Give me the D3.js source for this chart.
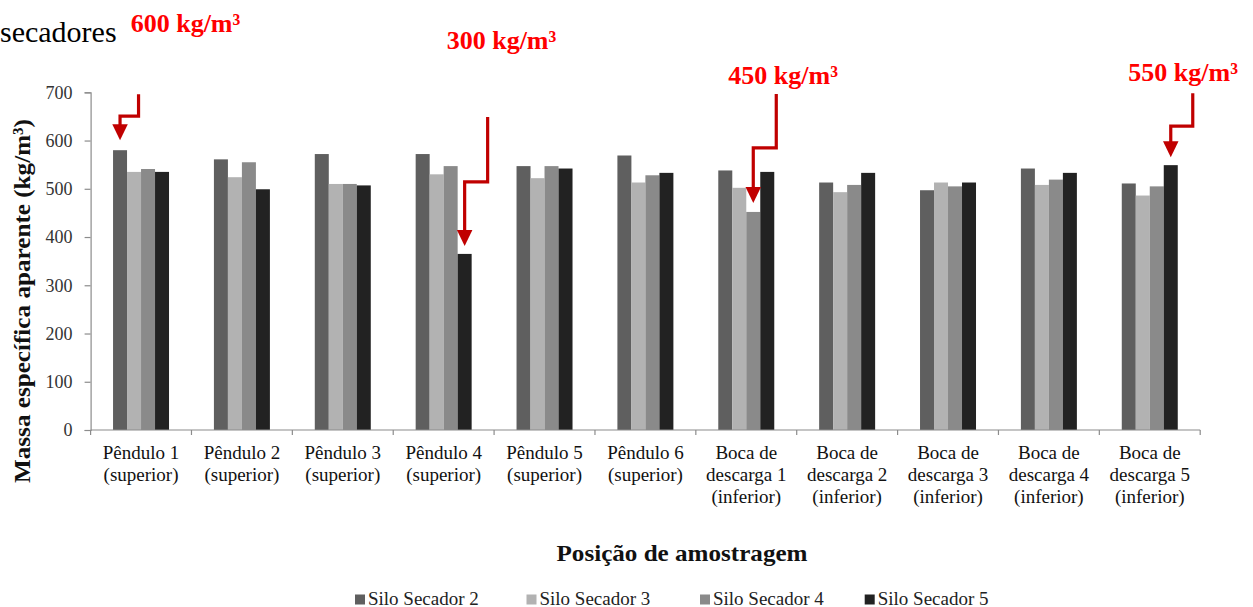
<!DOCTYPE html>
<html>
<head>
<meta charset="utf-8">
<script src="https://cdn.jsdelivr.net/npm/d3@7"></script>
<style>
  html, body { margin: 0; padding: 0; background: #fff; }
  svg { display: block; }
  svg text { font-family: "Liberation Serif", "DejaVu Serif", serif !important; }
</style>
</head>
<body>
<svg id="chart" width="1253" height="607"></svg>
<script>
// ---------- DATA ----------
const categories = [
  ["Pêndulo 1", "(superior)"],
  ["Pêndulo 2", "(superior)"],
  ["Pêndulo 3", "(superior)"],
  ["Pêndulo 4", "(superior)"],
  ["Pêndulo 5", "(superior)"],
  ["Pêndulo 6", "(superior)"],
  ["Boca de", "descarga 1", "(inferior)"],
  ["Boca de", "descarga 2", "(inferior)"],
  ["Boca de", "descarga 3", "(inferior)"],
  ["Boca de", "descarga 4", "(inferior)"],
  ["Boca de", "descarga 5", "(inferior)"]
];
const seriesNames = ["Silo Secador 2", "Silo Secador 3", "Silo Secador 4", "Silo Secador 5"];
const siloSecador2 = [580, 561, 572, 572, 547, 569, 538, 513, 497, 542, 511];
const siloSecador3 = [535, 524, 510, 530, 522, 513, 502, 493, 513, 508, 486];
const siloSecador4 = [541, 555, 510, 547, 547, 528, 452, 508, 505, 519, 505];
const siloSecador5 = [535, 499, 507, 365, 542, 533, 535, 533, 513, 533, 549];
const seriesValues = [siloSecador2, siloSecador3, siloSecador4, siloSecador5];
const seriesColors = ["#5f5f5f", "#b2b2b2", "#8a8a8a", "#222222"];
const yTicks = [0, 100, 200, 300, 400, 500, 600, 700];
const yLabel = "Massa específica aparente (kg/m³)";
const xLabel = "Posição de amostragem";
const topText = "secadores";
// annotations: label, category index, series index
const annotations = [
  { label: "600 kg/m³", cat: 0, ser: 0 },
  { label: "300 kg/m³", cat: 3, ser: 3 },
  { label: "450 kg/m³", cat: 6, ser: 2 },
  { label: "550 kg/m³", cat: 10, ser: 3 }
];

// ---------- LAYOUT ----------
const FONT = "'Liberation Serif', 'DejaVu Serif', serif";
const svg = d3.select("#chart");
const plotLeft = 90.6, plotRight = 1200.2, plotTop = 92.3, plotBottom = 430;

const x0 = d3.scaleBand()
  .domain(d3.range(categories.length))
  .range([plotLeft, plotRight])
  .paddingInner(0.445)
  .paddingOuter(0.2225);
const x1 = d3.scaleBand()
  .domain(d3.range(seriesNames.length))
  .range([0, x0.bandwidth()]);
const y = d3.scaleLinear().domain([0, 700]).range([plotBottom, plotTop]);

const axisColor = "#8c8c8c";

// top-left cropped text
svg.append("text").attr("x", 0).attr("y", 42).attr("font-family", FONT)
  .attr("font-size", 30).attr("fill", "#000").text(topText);

// bars
const groups = svg.append("g").selectAll("g")
  .data(categories.map((c, i) => i))
  .join("g")
  .attr("transform", i => `translate(${x0(i)},0)`);
groups.selectAll("rect")
  .data(i => seriesValues.map((vals, s) => ({ s, v: vals[i] })))
  .join("rect")
  .attr("x", d => x1(d.s))
  .attr("width", x1.bandwidth())
  .attr("y", d => y(d.v))
  .attr("height", d => y(0) - y(d.v))
  .attr("fill", d => seriesColors[d.s]);

// y axis
const yAxis = d3.axisLeft(y).tickValues(yTicks).tickSize(6).tickPadding(12).tickFormat(d3.format("d"));
const gy = svg.append("g").attr("transform", `translate(${plotLeft},0)`).call(yAxis)
  .attr("font-family", FONT);
gy.select(".domain").attr("stroke", axisColor).attr("stroke-width", 1.2);
gy.selectAll(".tick line").attr("stroke", axisColor).attr("stroke-width", 1.2);
gy.selectAll(".tick text")
  .attr("font-family", FONT)
  .attr("font-size", 18).attr("fill", "#333");

// x axis line + boundary ticks
const step = x0.step();
const gx = svg.append("g").attr("font-family", FONT);
gx.append("line").attr("x1", plotLeft).attr("x2", plotRight).attr("y1", plotBottom).attr("y2", plotBottom)
  .attr("stroke", axisColor).attr("stroke-width", 1.2);
gx.selectAll("line.tk").data(d3.range(categories.length + 1)).join("line")
  .attr("class", "tk")
  .attr("x1", i => plotLeft + i * step).attr("x2", i => plotLeft + i * step)
  .attr("y1", plotBottom).attr("y2", plotBottom + 5)
  .attr("stroke", axisColor).attr("stroke-width", 1.2);

// x category labels
gx.selectAll("text.cat").data(categories).join("text")
  .attr("class", "cat")
  .attr("text-anchor", "middle")
  .attr("font-family", FONT)
  .attr("font-size", 19)
  .attr("fill", "#111")
  .attr("x", (d, i) => x0(i) + x0.bandwidth() / 2)
  .attr("y", 459)
  .each(function (d, i) {
    const t = d3.select(this);
    d.forEach((line, k) => {
      t.append("tspan").attr("x", x0(i) + x0.bandwidth() / 2)
        .attr("dy", k === 0 ? 0 : 22).text(line);
    });
  });

// y label
svg.append("text")
  .attr("transform", "translate(30,301) rotate(-90)")
  .attr("text-anchor", "middle")
  .attr("font-family", FONT)
  .attr("font-size", 24).attr("font-weight", "bold").attr("fill", "#111")
  .attr("textLength", 364).attr("lengthAdjust", "spacingAndGlyphs")
  .text(yLabel);

// x title
svg.append("text")
  .attr("x", 682).attr("y", 561)
  .attr("text-anchor", "middle")
  .attr("font-family", FONT)
  .attr("font-size", 23).attr("font-weight", "bold").attr("fill", "#111")
  .attr("textLength", 251).attr("lengthAdjust", "spacingAndGlyphs")
  .text(xLabel);

// legend
const legendX = [355, 526.5, 700, 864.7];
const lg = svg.append("g").selectAll("g").data(seriesNames).join("g")
  .attr("transform", (d, i) => `translate(${legendX[i]},0)`);
lg.append("rect").attr("x", 0).attr("y", 594.5).attr("width", 10).attr("height", 10)
  .attr("fill", (d, i) => seriesColors[i]);
lg.append("text").attr("x", 13).attr("y", 604.5)
  .attr("font-family", FONT)
  .attr("font-size", 19).attr("fill", "#222").text(d => d);

// annotations (elbow arrows)
const arrowColor = "#c00000";
const annoLayout = [
  { lx: 130.7, ly: 31.5, dx: 18.5, elbow: 24, topOff: 46, tipGap: 10 },
  { lx: 446.7, ly: 48.5, dx: 23, elbow: 64, topOff: 129, tipGap: 8 },
  { lx: 728.3, ly: 83.5, dx: 23, elbow: 55, topOff: 109, tipGap: 9 },
  { lx: 1128.3, ly: 80.5, dx: 22, elbow: 31, topOff: 64, tipGap: 8 }
];
const ga = svg.append("g");
annotations.forEach((a, i) => {
  const L = annoLayout[i];
  const v = seriesValues[a.ser][a.cat];
  const tx = x0(a.cat) + x1(a.ser) + x1.bandwidth() / 2;
  const ty = y(v) - L.tipGap;
  const headH = 16, headW = 15.5;
  const path = d3.path();
  path.moveTo(tx + L.dx, ty - L.topOff);
  path.lineTo(tx + L.dx, ty - L.elbow);
  path.lineTo(tx, ty - L.elbow);
  path.lineTo(tx, ty - headH + 1);
  ga.append("path").attr("d", path.toString())
    .attr("fill", "none").attr("stroke", arrowColor).attr("stroke-width", 3.2)
    .attr("stroke-linejoin", "miter");
  ga.append("path")
    .attr("d", `M${tx - headW / 2},${ty - headH} L${tx + headW / 2},${ty - headH} L${tx},${ty} Z`)
    .attr("fill", arrowColor);
  svg.append("text").attr("x", L.lx).attr("y", L.ly)
    .attr("font-family", FONT)
    .attr("font-size", 26).attr("font-weight", "bold").attr("fill", "#ff0000")
    .text(a.label);
});
</script>
</body>
</html>
